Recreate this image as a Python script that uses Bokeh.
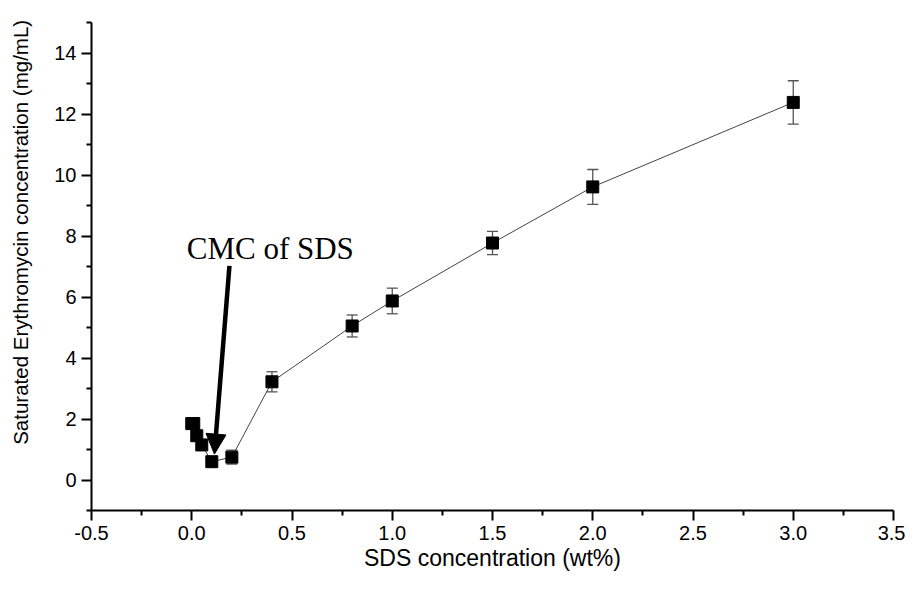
import math
from bokeh.plotting import figure
from bokeh.models import (Range1d, FixedTicker, Whisker, TeeHead, ColumnDataSource,
                          Label, Arrow, NormalHead)
from bokeh.embed import file_html
from bokeh.resources import INLINE

# ---- data ----
sds_conc = [0.0, 0.01, 0.025, 0.05, 0.1, 0.2, 0.4, 0.8, 1.0, 1.5, 2.0, 3.0]
ery_conc = [1.85, 1.85, 1.45, 1.15, 0.6, 0.75, 3.22, 5.05, 5.87, 7.77, 9.61, 12.38]
ery_err = [0.05, 0.05, 0.05, 0.05, 0.05, 0.23, 0.33, 0.36, 0.42, 0.38, 0.57, 0.71]

x_ticks = [-0.5, 0.0, 0.5, 1.0, 1.5, 2.0, 2.5, 3.0, 3.5]
x_tick_labels = ["-0.5", "0.0", "0.5", "1.0", "1.5", "2.0", "2.5", "3.0", "3.5"]
x_minor = [-0.25, 0.25, 0.75, 1.25, 1.75, 2.25, 2.75, 3.25]
y_ticks = [0, 2, 4, 6, 8, 10, 12, 14]
y_tick_labels = ["0", "2", "4", "6", "8", "10", "12", "14"]
y_minor = [-1, 1, 3, 5, 7, 9, 11, 13, 15]

x_title = "SDS concentration (wt%)"
y_title = "Saturated Erythromycin concentration (mg/mL)"
note_text = "CMC of SDS"
note_pos = (-0.025, 7.6)
arrow_start = (0.188, 7.02)
arrow_end = (0.113, 0.85)

FONT = "Liberation Sans"

src = ColumnDataSource(dict(
    x=sds_conc, y=ery_conc,
    upper=[v + e for v, e in zip(ery_conc, ery_err)],
    lower=[v - e for v, e in zip(ery_conc, ery_err)],
))

p = figure(width=905, height=574, output_backend="svg", toolbar_location=None,
           x_range=Range1d(-0.5, 3.5), y_range=Range1d(-1, 15),
           min_border_left=91, min_border_right=12, min_border_top=22, min_border_bottom=64)
p.xgrid.visible = False
p.ygrid.visible = False
p.outline_line_color = None
p.background_fill_color = "white"
p.border_fill_color = "white"

whisk = Whisker(source=src, base="x", upper="upper", lower="lower",
                line_color="#555555", line_width=1.3,
                upper_head=TeeHead(size=11, line_color="#555555", line_width=1.3),
                lower_head=TeeHead(size=11, line_color="#555555", line_width=1.3))
p.add_layout(whisk)

p.line("x", "y", source=src, line_color="#444444", line_width=1)
p.scatter("x", "y", source=src, marker="square", size=12, fill_color="black",
          line_color="black")

for ax in (p.xaxis[0], p.yaxis[0]):
    ax.axis_line_width = 2
    ax.axis_line_color = "black"
    ax.major_tick_line_width = 2
    ax.minor_tick_line_width = 2
    ax.major_tick_out = 10
    ax.major_tick_in = 0
    ax.minor_tick_out = 5
    ax.minor_tick_in = 0
    ax.major_label_text_font = FONT
    ax.major_label_text_font_size = "20px"
    ax.major_label_text_color = "black"
    ax.major_label_standoff = 5
    ax.axis_label_text_font = FONT
    ax.axis_label_text_font_style = "normal"
    ax.axis_label_text_color = "black"

p.xaxis.ticker = FixedTicker(ticks=x_ticks, minor_ticks=x_minor)
p.xaxis.major_label_overrides = dict(zip(x_ticks, x_tick_labels))
p.yaxis.ticker = FixedTicker(ticks=y_ticks, minor_ticks=y_minor)
p.yaxis.major_label_overrides = dict(zip(y_ticks, y_tick_labels))

p.xaxis.axis_label = x_title
p.xaxis.axis_label_text_font_size = "23px"
p.xaxis.axis_label_standoff = 2

# leading no-break spaces lift the centred title to where the reference has it
p.yaxis.axis_label = "\u00a0" * 12 + y_title
p.yaxis.axis_label_text_font_size = "20.5px"
p.yaxis.axis_label_standoff = 19

note = Label(x=note_pos[0], y=note_pos[1], text=note_text, text_font="Liberation Serif",
             text_font_size="31px", text_align="left", text_baseline="alphabetic",
             text_color="black")
p.add_layout(note)

arr = Arrow(x_start=arrow_start[0], y_start=arrow_start[1],
            x_end=arrow_end[0], y_end=arrow_end[1],
            line_color="black", line_width=4.5,
            end=NormalHead(size=20, fill_color="black", line_color="black", line_width=1))
p.add_layout(arr)

open("out.html", "w").write(file_html(p, INLINE))
